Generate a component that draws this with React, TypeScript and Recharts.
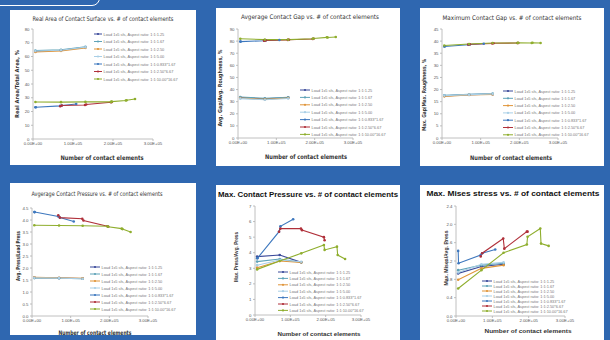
import React from 'react';
import { LineChart, Line, XAxis, YAxis } from 'recharts';

// ---------- shared series info ----------
const seriesNames = [
  'Load 1x5 sfs, Aspect ratio: 1:1:1.25',
  'Load 1x5 sfs, Aspect ratio: 1:1:1.67',
  'Load 1x5 sfs, Aspect ratio: 1:1:2.50',
  'Load 1x5 sfs, Aspect ratio: 1:1:5.00',
  'Load 1x5 sfs, Aspect ratio: 1:1:0.833*1.67',
  'Load 1x5 sfs, Aspect ratio: 1:1:2.50*6.67',
  'Load 1x5 sfs, Aspect ratio: 1:1:10.00*16.67',
];
const seriesColors = ['#3B4A9A', '#5FA3B8', '#E0953A', '#A9CFE6', '#3E78BE', '#B0303A', '#8FAE2E'];

// number of contact elements (x) for each series
const xUniform = [6000, 70000, 131000];
const xSeries5 = [6000, 7000, 68000, 72000, 108000];
const xSeries6 = [68000, 72000, 130000, 133000, 195000, 197000];
const xSeries7 = [6000, 70000, 131000, 195000, 197000, 232000, 234000, 255000];
const xTicks = [0, 100000, 200000, 300000];

// ---------- panel 1: real area ----------
const areaS1 = [63.8, 64.5, 66.7];
const areaS2 = [64.3, 64.9, 67.0];
const areaS3 = [63.3, 64.1, 66.3];
const areaS4 = [64.0, 64.6, 66.8];
const areaS5 = [23.1, 23.1, 24.1, 24.4, 25.4];
const areaS6 = [23.8, 24.4, 24.7, 25.1, 26.7, 26.9];
const areaS7 = [26.9, 26.8, 27.0, 27.0, 27.2, 28.0, 28.2, 29.1];
const areaTicks = [0, 10, 20, 30, 40, 50, 60, 70, 80];

// ---------- panel 2: average gap ----------
const avgGapS1 = [33.4, 32.3, 33.3];
const avgGapS2 = [33.8, 32.7, 33.6];
const avgGapS3 = [33.0, 31.9, 33.0];
const avgGapS4 = [32.5, 31.6, 32.6];
const avgGapS5 = [79.6, 79.6, 80.3, 80.5, 80.9];
const avgGapS6 = [80.4, 80.6, 81.0, 81.1, 81.8, 82.0];
const avgGapS7 = [82.0, 81.2, 81.2, 82.0, 82.2, 83.1, 83.0, 83.4];
const avgGapTicks = [0, 10, 20, 30, 40, 50, 60, 70, 80, 90];

// ---------- panel 3: maximum gap ----------
const maxGapS1 = [17.4, 17.9, 18.1];
const maxGapS2 = [17.6, 18.0, 18.3];
const maxGapS3 = [17.2, 17.8, 18.0];
const maxGapS4 = [17.5, 17.9, 18.2];
const maxGapS5 = [37.8, 37.8, 38.5, 38.6, 38.9];
const maxGapS6 = [38.6, 38.7, 39.0, 39.1, 39.2, 39.2];
const maxGapS7 = [38.2, 38.8, 39.2, 39.2, 39.3, 39.2, 39.3, 39.2];
const maxGapTicks = [0, 5, 10, 15, 20, 25, 30, 35, 40, 45];

// ---------- panel 4: average pressure ----------
const avgPresS1 = [1.6, 1.58, 1.56];
const avgPresS2 = [1.58, 1.57, 1.55];
const avgPresS3 = [1.61, 1.59, 1.57];
const avgPresS4 = [1.59, 1.58, 1.55];
const avgPresS5 = [4.33, 4.33, 4.15, 4.1, 3.94];
const avgPresS6 = [4.2, 4.1, 4.05, 3.98, 3.74, 3.72];
const avgPresS7 = [3.78, 3.77, 3.76, 3.74, 3.72, 3.64, 3.62, 3.5];
const avgPresTicks = [0, 0.5, 1, 1.5, 2, 2.5, 3, 3.5, 4, 4.5];

// ---------- panel 5: max pressure ----------
const maxPresS1 = [3.75, 3.85, 3.38];
const maxPresS2 = [3.43, 3.6, 3.38];
const maxPresS3 = [3.04, 3.47, 3.38];
const maxPresS4 = [3.2, 3.53, 3.42];
const maxPresS5 = [3.65, 3.65, 5.35, 5.7, 6.15];
const maxPresS6 = [5.35, 5.55, 5.55, 5.45, 5.0, 4.8];
const maxPresS7 = [2.93, 3.47, 3.96, 4.5, 4.18, 4.39, 3.85, 3.6];
const maxPresTicks = [0, 1, 2, 3, 4, 5, 6, 7];

// ---------- panel 6: max mises ----------
const misesS1 = [0.93, 1.08, 1.13];
const misesS2 = [1.0, 1.11, 1.15];
const misesS3 = [0.79, 1.04, 1.11];
const misesS4 = [0.95, 1.13, 1.17];
const misesS5 = [1.42, 1.15, 1.33, 1.37, 1.45];
const misesS6 = [1.3, 1.37, 1.69, 1.47, 1.84, 1.84];
const misesS7 = [0.6, 1.0, 1.38, 1.56, 1.73, 1.91, 1.58, 1.53];
const misesTicks = [0, 0.4, 0.8, 1.2, 1.6, 2.0, 2.4];

const xArrays = [xUniform, xUniform, xUniform, xUniform, xSeries5, xSeries6, xSeries7];

const pts = (xs: number[], ys: number[]) => xs.map((x, i) => ({ x, y: ys[i] }));

const expFmt = (v: number) => {
  const [m, e] = v.toExponential(2).split('e');
  const sign = e[0] === '-' ? '-' : '+';
  const digits = e.replace(/[+-]/, '').padStart(2, '0');
  return `${m}E${sign}${digits}`;
};

const narrow = "'Liberation Sans Narrow', 'DejaVu Sans Condensed', sans-serif";
const sans = "'Liberation Sans', Arial, sans-serif";

type Panel = {
  box: [number, number, number, number];
  margin: { top: number; right: number; bottom: number; left: number };
  ys: number[][];
  yTicks: number[];
  yFmt: (v: number) => string;
  title: string;
  titlePos: [number, number, number];
  titleBold: boolean;
  yLabel: string;
  yLabelPos: [number, number, number];
  xLabelPos: [number, number, number];
  legend: { x1: number; x2: number; tx: number; y0: number; dy: number };
};

const panels: Panel[] = [
  {
    box: [10, 10, 186, 155],
    margin: { top: 19, right: 43, bottom: 16, left: 8 },
    ys: [areaS1, areaS2, areaS3, areaS4, areaS5, areaS6, areaS7],
    yTicks: areaTicks,
    yFmt: (v) => String(v),
    title: 'Real Area of Contact Surface vs. # of contact elements',
    titlePos: [103, 18, 141],
    titleBold: false,
    yLabel: 'Real Area/Total Area, %',
    yLabelPos: [17, 84, 68],
    xLabelPos: [102, 157, 83],
    legend: { x1: 94, x2: 102, tx: 103.5, y0: 34, dy: 7.5 },
  },
  {
    box: [216, 8, 184, 158],
    margin: { top: 21, right: 47, bottom: 18, left: 7 },
    ys: [avgGapS1, avgGapS2, avgGapS3, avgGapS4, avgGapS5, avgGapS6, avgGapS7],
    yTicks: avgGapTicks,
    yFmt: (v) => String(v),
    title: 'Avgerage Contact Gap vs. # of contact elements',
    titlePos: [310, 16.5, 138],
    titleBold: false,
    yLabel: 'Avg. Gap/Avg. Roughness, %',
    yLabelPos: [220, 88, 77],
    xLabelPos: [306, 156, 82],
    legend: { x1: 300, x2: 310, tx: 311.5, y0: 90, dy: 7.4 },
  },
  {
    box: [420, 8, 184, 158],
    margin: { top: 21, right: 46, bottom: 18, left: 7 },
    ys: [maxGapS1, maxGapS2, maxGapS3, maxGapS4, maxGapS5, maxGapS6, maxGapS7],
    yTicks: maxGapTicks,
    yFmt: (v) => String(v),
    title: 'Maximum Contact Gap vs. # of contact elements',
    titlePos: [512, 17, 139],
    titleBold: false,
    yLabel: 'Max. Gap/Max. Roughness, %',
    yLabelPos: [424, 95, 72],
    xLabelPos: [511, 157, 82],
    legend: { x1: 503, x2: 513, tx: 514.5, y0: 91, dy: 7.3 },
  },
  {
    box: [10, 183, 186, 152],
    margin: { top: 25, right: 48, bottom: 9, left: 7 },
    ys: [avgPresS1, avgPresS2, avgPresS3, avgPresS4, avgPresS5, avgPresS6, avgPresS7],
    yTicks: avgPresTicks,
    yFmt: (v) => v.toFixed(1),
    title: 'Avgerage Contact Pressure vs. # of contact elements',
    titlePos: [97, 193, 131],
    titleBold: false,
    yLabel: 'Avg. Press/Load Press',
    yLabelPos: [18, 256, 50],
    xLabelPos: [95, 332, 73],
    legend: { x1: 90, x2: 100, tx: 101.5, y0: 267, dy: 7 },
  },
  {
    box: [216, 185, 184, 155],
    margin: { top: 21, right: 39, bottom: 15, left: 24 },
    ys: [maxPresS1, maxPresS2, maxPresS3, maxPresS4, maxPresS5, maxPresS6, maxPresS7],
    yTicks: maxPresTicks,
    yFmt: (v) => String(v),
    title: 'Max. Contact Pressure vs. # of contact elements',
    titlePos: [308, 194, 180],
    titleBold: true,
    yLabel: 'Max. Press/Avg. Press',
    yLabelPos: [236, 257, 50],
    xLabelPos: [319, 334, 83],
    legend: { x1: 278, x2: 288, tx: 289.5, y0: 272, dy: 6.4 },
  },
  {
    box: [420, 185, 184, 155],
    margin: { top: 21, right: 39, bottom: 14, left: 21 },
    ys: [misesS1, misesS2, misesS3, misesS4, misesS5, misesS6, misesS7],
    yTicks: misesTicks,
    yFmt: (v) => v.toFixed(1),
    title: 'Max. Mises stress vs. # of contact elements',
    titlePos: [513, 193, 173],
    titleBold: true,
    yLabel: 'Max. Mises/Avg. Press',
    yLabelPos: [446, 258, 55],
    xLabelPos: [528, 331, 87],
    legend: { x1: 482, x2: 492, tx: 493.5, y0: 281, dy: 5 },
  },
];

const PanelChart = ({ p }: { p: Panel }) => {
  const [x, y, w, h] = p.box;
  const yMin = p.yTicks[0];
  const yMax = p.yTicks[p.yTicks.length - 1];
  return (
    <div style={{ position: 'absolute', left: x, top: y, width: w, height: h, background: '#ffffff' }}>
      <LineChart width={w} height={h} margin={p.margin}>
        <XAxis
          type="number"
          dataKey="x"
          domain={[0, 300000]}
          ticks={xTicks}
          tickFormatter={expFmt}
          height={10}
          stroke="#b0b0b0"
          strokeWidth={0.8}
          tickSize={2}
          tickMargin={1}
          interval={0}
          tick={{ fontSize: 4.3, fill: '#555', fontFamily: sans }}
        />
        <YAxis
          type="number"
          dataKey="y"
          domain={[yMin, yMax]}
          ticks={p.yTicks}
          tickFormatter={p.yFmt}
          width={15}
          stroke="#b0b0b0"
          strokeWidth={0.8}
          tickSize={2}
          tickMargin={1.5}
          interval={0}
          allowDataOverflow
          tick={{ fontSize: 4.3, fill: '#555', fontFamily: sans }}
        />
        {p.ys.map((ys, i) => (
          <Line
            key={i}
            data={pts(xArrays[i], ys)}
            dataKey="y"
            name={seriesNames[i]}
            type="linear"
            stroke={seriesColors[i]}
            strokeWidth={1.1}
            dot={{ r: 1.3, fill: seriesColors[i], stroke: seriesColors[i], strokeWidth: 0 }}
            activeDot={false}
            isAnimationActive={false}
          />
        ))}
      </LineChart>
    </div>
  );
};

const Overlay = () => (
  <svg
    width={610}
    height={340}
    style={{ position: 'absolute', left: 0, top: 0, pointerEvents: 'none' }}
  >
    {panels.map((p, k) => (
      <g key={k}>
        <text
          x={p.titlePos[0]}
          y={p.titlePos[1]}
          textAnchor="middle"
          dominantBaseline="central"
          fontFamily={p.titleBold ? sans : narrow}
          fontWeight={p.titleBold ? 700 : 400}
          fontSize={p.titleBold ? 7 : 6.3}
          fill={p.titleBold ? '#111' : '#333'}
          textLength={p.titlePos[2]}
          lengthAdjust="spacingAndGlyphs"
        >
          {p.title}
        </text>
        <text
          transform={`translate(${p.yLabelPos[0]},${p.yLabelPos[1]}) rotate(-90)`}
          textAnchor="middle"
          dominantBaseline="central"
          fontFamily={p.titleBold ? sans : narrow}
          fontWeight={700}
          fontSize={p.titleBold ? 5 : 5.5}
          fill="#333"
          textLength={p.yLabelPos[2]}
          lengthAdjust="spacingAndGlyphs"
        >
          {p.yLabel}
        </text>
        <text
          x={p.xLabelPos[0]}
          y={p.xLabelPos[1]}
          textAnchor="middle"
          dominantBaseline="central"
          fontFamily={p.titleBold ? sans : narrow}
          fontWeight={700}
          fontSize={p.titleBold ? 5.6 : 6.3}
          fill="#333"
          textLength={p.xLabelPos[2]}
          lengthAdjust="spacingAndGlyphs"
        >
          Number of  contact elements
        </text>
        {seriesNames.map((name, i) => {
          const ly = p.legend.y0 + i * p.legend.dy;
          return (
            <g key={i}>
              <line x1={p.legend.x1} x2={p.legend.x2} y1={ly} y2={ly} stroke={seriesColors[i]} strokeWidth={1} />
              <circle cx={(p.legend.x1 + p.legend.x2) / 2} cy={ly} r={1.1} fill={seriesColors[i]} />
              <text
                x={p.legend.tx}
                y={ly}
                dominantBaseline="central"
                fontFamily={sans}
                fontSize={3.9}
                fill="#777"
              >
                {name}
              </text>
            </g>
          );
        })}
      </g>
    ))}
  </svg>
);

export default function App() {
  return (
    <div
      style={{
        position: 'absolute',
        left: 0,
        top: 0,
        width: 610,
        height: 340,
        overflow: 'hidden',
        background: '#2F67B0',
      }}
    >
      <div
        style={{
          position: 'absolute',
          left: -12,
          top: -12,
          width: 110,
          height: 16,
          border: '1.5px solid #ffffff',
          borderRadius: '0 0 8px 0',
        }}
      />
      {panels.map((p, k) => (
        <PanelChart key={k} p={p} />
      ))}
      <Overlay />
    </div>
  );
}
